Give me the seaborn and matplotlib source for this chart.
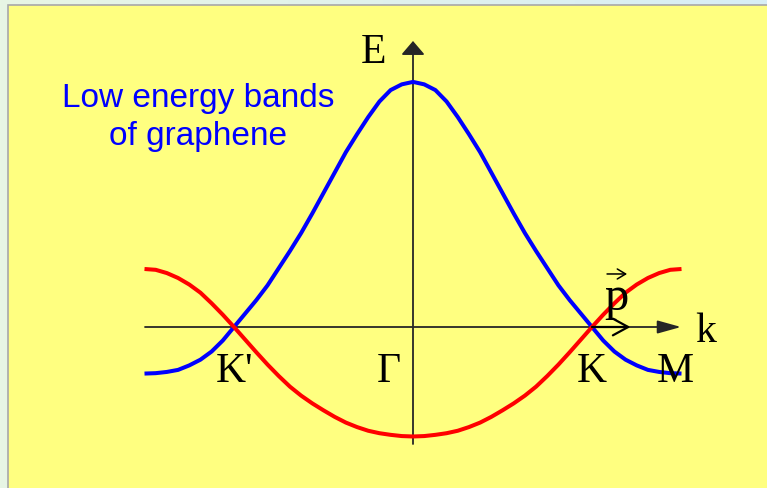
import numpy as np
import pandas as pd
import matplotlib
matplotlib.use("Agg")
import matplotlib.pyplot as plt
from matplotlib.patches import Rectangle
from matplotlib.colors import LinearSegmentedColormap
import seaborn as sns

# Wave vector along the M'-K'-Gamma-K-M line (|Gamma K| = 1), right half
k_half = [0.0, 0.0625, 0.125, 0.1875, 0.25, 0.3125, 0.375, 0.4375, 0.5,
          0.5625, 0.625, 0.6875, 0.75, 0.8125, 0.875, 0.9375, 1.0, 1.0625,
          1.125, 1.1875, 1.25, 1.3125, 1.375, 1.4375, 1.5]

# Upper (blue) and lower (red) band energies on the right half
E_upper_half = [3.0, 2.97, 2.90, 2.76, 2.57, 2.36, 2.14, 1.89, 1.64,
                1.39, 1.15, 0.93, 0.72, 0.51, 0.33, 0.165, 0.0, -0.165,
                -0.30, -0.40, -0.47, -0.525, -0.55, -0.565, -0.57]
E_lower_half = [-1.34, -1.335, -1.32, -1.30, -1.27, -1.225, -1.17, -1.10, -1.02,
                -0.935, -0.84, -0.73, -0.60, -0.46, -0.31, -0.155, 0.0, 0.15,
                0.29, 0.42, 0.52, 0.60, 0.66, 0.70, 0.71]

point_labels = ["K'", "\u0393", "K", "M"]
point_k = [-1.0, 0.0, 1.0, 1.5]

# bands are even in k: K' side mirrors the K side
k_full = [-v for v in k_half[:0:-1]] + k_half
E_upper = E_upper_half[:0:-1] + E_upper_half
E_lower = E_lower_half[:0:-1] + E_lower_half

df = pd.DataFrame({
    "k": k_full * 2,
    "E": E_upper + E_lower,
    "band": ["upper"] * len(k_full) + ["lower"] * len(k_full),
})

W, H = 767, 489
fig = plt.figure(figsize=(W / 100, H / 100), dpi=100)

# pale gradient frame behind the slide panel
bg = fig.add_axes([0, 0, 1, 1], zorder=0)
grad = np.linspace(0, 1, 256)[None, :]
cm = LinearSegmentedColormap.from_list("frame", ["#e8f6e4", "#d8eef6"])
bg.imshow(grad, aspect="auto", cmap=cm, extent=[0, 1, 0, 1])
bg.set_axis_off()

# yellow panel with grey edge
fig.patches.append(Rectangle((7.5 / W, -0.01), 1.0, (H - 5.5) / H + 0.01,
                             transform=fig.transFigure, facecolor="#ffff80",
                             edgecolor="#a8a8a8", lw=1.2, zorder=1))

ax = fig.add_axes([0, 0, 1, 1], zorder=2)
ax.patch.set_alpha(0)
sx, sy = 179.0, 81.7
x0, y0 = 413.0, 328.0
ax.set_xlim(-x0 / sx, (W - x0) / sx)
ax.set_ylim(-(H - y0) / sy, y0 / sy)
ax.set_axis_off()

sns.lineplot(data=df, x="k", y="E", hue="band", estimator=None, sort=False,
             palette={"upper": "#0000ff", "lower": "#ff0000"},
             hue_order=["upper", "lower"], lw=2.9, legend=False, ax=ax,
             zorder=3, solid_joinstyle="round", solid_capstyle="butt")

axis_col = "#262626"
# k axis
ax.annotate("", xy=((681 - x0) / sx, 0), xytext=((145 - x0) / sx, 0),
            arrowprops=dict(arrowstyle="-|>,head_length=0.72,head_width=0.2",
                            mutation_scale=20, lw=1.3, color=axis_col,
                            shrinkA=0, shrinkB=0), zorder=2)
# E axis
ax.annotate("", xy=(0, (y0 - 42) / sy), xytext=(0, (y0 - 445) / sy),
            arrowprops=dict(arrowstyle="-|>,head_length=0.42,head_width=0.36",
                            mutation_scale=20, lw=1.3, color=axis_col,
                            shrinkA=0, shrinkB=0), zorder=2)

serif = "Liberation Serif"
fs = 30
for lab, kk in zip(point_labels, point_k):
    dx = -0.134 if lab == "\u0393" else (0.0 if lab != "M" else -0.036)
    ax.text(kk + dx, -0.666, lab, ha="center", va="baseline",
            family=serif, fontsize=fs, color="black", zorder=4)

ax.text(-0.218, 3.243, "E", ha="center", va="baseline", family=serif,
        fontsize=fs, color="black")
ax.text(1.575, -0.171, "k", ha="left", va="baseline", family=serif,
        fontsize=fs, color="black")

# momentum vector p measured from K
ax.annotate("", xy=(1.215, 0), xytext=(1.0, 0),
            arrowprops=dict(arrowstyle="->,head_length=0.55,head_width=0.3",
                            mutation_scale=20, lw=1.6, color="black",
                            shrinkA=0, shrinkB=0), zorder=4)
ax.text(1.134, 0.22, "p", ha="center", va="baseline", family=serif,
        fontsize=35, color="black", zorder=4)
ax.annotate("", xy=(1.196, 0.649), xytext=(1.084, 0.649),
            arrowprops=dict(arrowstyle="->,head_length=0.3,head_width=0.18",
                            mutation_scale=20, lw=1.1, color="black",
                            shrinkA=0, shrinkB=0), zorder=4)

sans = "Liberation Sans"
ax.text(-1.201, 2.705, "Low energy bands", ha="center", va="baseline",
        family=sans, fontsize=24, color="#0000ff")
ax.text(-1.201, 2.240, "of graphene", ha="center", va="baseline",
        family=sans, fontsize=24, color="#0000ff")

fig.savefig("out.png", dpi=100)
